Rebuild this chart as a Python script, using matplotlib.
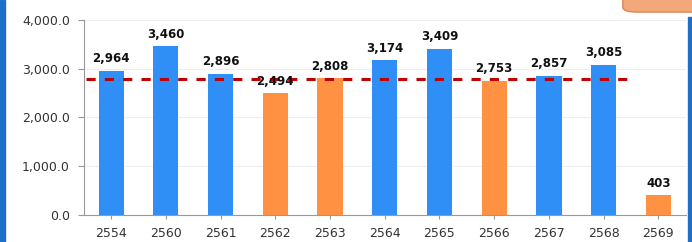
import matplotlib.pyplot as plt
from matplotlib.patches import FancyBboxPatch, Rectangle

years = ['2554', '2560', '2561', '2562', '2563', '2564', '2565', '2566', '2567', '2568', '2569']
rain = [2964, 3460, 2896, 2494, 2808, 3174, 3409, 2753, 2857, 3085, 403]
dry_year = [False, False, False, True, True, False, False, True, False, False, True]
avg_line = 2800

blue = '#2F8FF6'
orange = '#FF9142'
colors = [orange if d else blue for d in dry_year]

fig = plt.figure(figsize=(6.92, 2.42), dpi=100)
ax = fig.add_axes([0.121, 0.112, 0.87, 0.805])

x = range(len(years))
bars = ax.bar(x, rain, width=0.46, color=colors, zorder=2)
for xi, v in zip(x, rain):
    ax.annotate(f'{v:,}', (xi, v), xytext=(0, 4), textcoords='offset points',
                ha='center', va='bottom', fontsize=8.5, fontweight='bold', color='#111111', zorder=4)

ax.hlines(avg_line, -0.45, 9.5, colors='#C00000', linestyles=(0, (3, 3)), linewidth=2.2, zorder=3)

ax.set_xlim(-0.5, len(years) - 0.5)
ax.set_ylim(0, 4000)
ax.set_yticks([0, 1000, 2000, 3000, 4000])
ax.set_yticklabels([f'{t:,.1f}' for t in [0, 1000, 2000, 3000, 4000]], fontsize=9, color='#333333')
ax.set_xticks(list(x))
ax.set_xticklabels(years, fontsize=9, color='#333333')
ax.tick_params(axis='y', length=4, color='#999999', pad=6)
ax.tick_params(axis='x', length=3, color='#999999', pad=6)
ax.grid(axis='y', color='#EEEEEE', linewidth=0.8, zorder=0)
for s in ['top', 'right']:
    ax.spines[s].set_visible(False)
for s in ['left', 'bottom']:
    ax.spines[s].set_color('#999999')

# decoration: blue side borders and peach tab top right
fig.patches.append(Rectangle((0, 0), 0.007, 1, transform=fig.transFigure, color='#1F6FC8', zorder=5))
fig.patches.append(Rectangle((0.994, 0), 0.006, 0.93, transform=fig.transFigure, color='#1F6FC8', zorder=5))
fig.patches.append(FancyBboxPatch((0.9, 0.95), 0.12, 0.1, boxstyle='round,pad=0.0,rounding_size=0.02',
                                  transform=fig.transFigure, facecolor='#F2A878', edgecolor='#D88A5A',
                                  linewidth=1, zorder=5))

fig.savefig('out.png', dpi=100)
